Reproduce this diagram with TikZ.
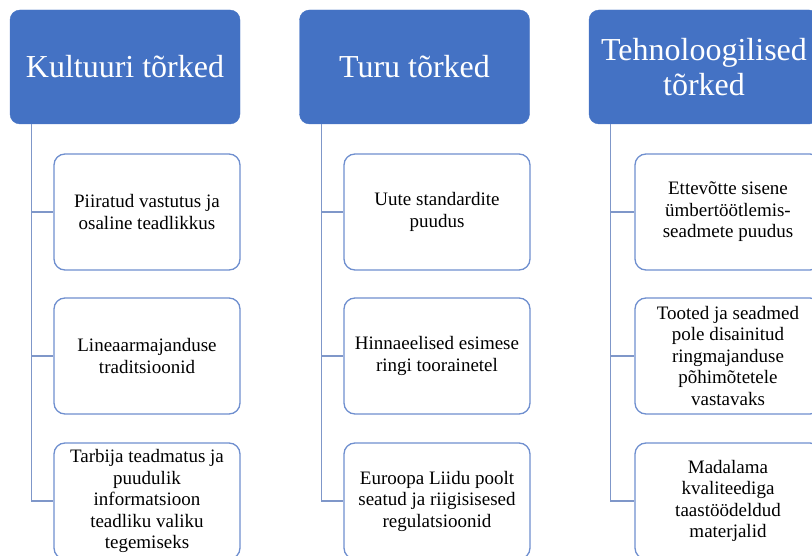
\documentclass[tikz,border=0pt]{standalone}
\usepackage{fontspec}
\setmainfont{Liberation Serif}
\definecolor{headblue}{HTML}{4472C4}
\definecolor{boxblue}{HTML}{6F8FCF}
\definecolor{lineblue}{HTML}{7F97C9}

\begin{document}
\begin{tikzpicture}[
                x=1pt,y=-1pt,
                header/.style={draw=headblue,fill=headblue,text=white,rounded corners=10pt,
                  minimum width=230pt,minimum height=114pt,align=center,
                  font=\fontsize{32}{35}\selectfont},
                item/.style={draw=boxblue,line width=1.3pt,fill=white,text=black,rounded corners=11pt,
                  minimum width=186pt,minimum height=116pt,align=center,
                  font=\fontsize{19}{21.5}\selectfont},
                conn/.style={draw=lineblue,line width=1.3pt}]

\useasboundingbox (0,0) rectangle (812,556);
\clip (0,0) rectangle (812,556);

                    % Kultuuri
                    \node[header] (Kult) at (125,67) {Kultuuri tõrked};
                    \node[item] (Kult1) at (147,212) {Piiratud vastutus ja\\osaline teadlikkus}; % 1
                    \node[item] (Kult2) at (147,356) {Lineaarmajanduse\\traditsioonid}; % 2
                    \node[item] (Kult3) at (147,501) {Tarbija teadmatus ja\\puudulik\\informatsioon\\teadliku valiku\\tegemiseks}; % 3

                    \draw[conn] ([xshift=22pt]Kult.south west) |- (Kult3.west);
                    \draw[conn] ([xshift=22pt]Kult.south west) |- (Kult1.west);
                    \draw[conn] ([xshift=22pt]Kult.south west) |- (Kult2.west);


                    % Turu
                    \node[header] (Turu) at (414.5,67) {Turu tõrked};
                    \node[item] (Turu1) at (437,212) {Uute standardite\\puudus}; % 1
                    \node[item] (Turu2) at (437,356) {Hinnaeelised esimese\\ringi toorainetel}; % 2
                    \node[item] (Turu3) at (437,501) {Euroopa Liidu poolt\\seatud ja riigisisesed\\regulatsioonid}; % 3

                    \draw[conn] ([xshift=22pt]Turu.south west) |- (Turu3.west);
                    \draw[conn] ([xshift=22pt]Turu.south west) |- (Turu1.west);
                    \draw[conn] ([xshift=22pt]Turu.south west) |- (Turu2.west);


 % Tehnoloogilised
                    \node[header] (Tehn) at (704,67) {Tehnoloogilised\\tõrked};
                    \node[item] (Tehn1) at (728,212) {Ettevõtte sisene\\ümbertöötlemis-\\seadmete puudus}; % 1
                    \node[item] (Tehn2) at (728,356) {Tooted ja seadmed\\pole disainitud\\ringmajanduse\\põhimõtetele\\vastavaks}; % 2
                    \node[item] (Tehn3) at (728,501) {Madalama\\kvaliteediga\\taastöödeldud\\materjalid}; % 3

                    \draw[conn] ([xshift=22pt]Tehn.south west) |- (Tehn3.west);
                    \draw[conn] ([xshift=22pt]Tehn.south west) |- (Tehn1.west);
                    \draw[conn] ([xshift=22pt]Tehn.south west) |- (Tehn2.west);

                    \end{tikzpicture}
\end{document}
